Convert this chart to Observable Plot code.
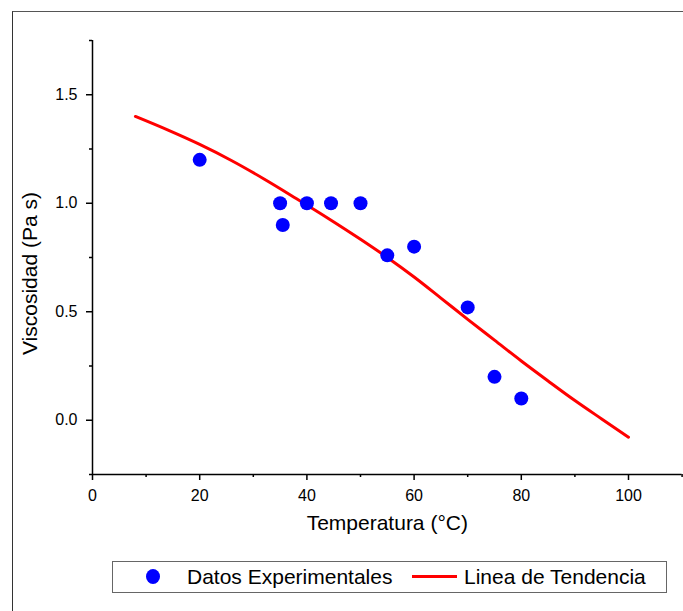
<!DOCTYPE html>
<html>
<head>
<meta charset="utf-8">
<script src="https://cdn.jsdelivr.net/npm/d3@7"></script>
<script src="https://cdn.jsdelivr.net/npm/@observablehq/plot@0.6"></script>
<style>
  html, body { margin: 0; padding: 0; background: #fff; }
  #wrap { position: relative; width: 683px; height: 611px; overflow: hidden; font-family: "Liberation Sans", Arial, sans-serif; }
  #frame { position: absolute; left: 12px; top: 11px; width: 700px; height: 700px; border-left: 1.5px solid #333; border-top: 1.5px solid #555; }
  #chart { position: absolute; left: 0; top: 0; }
  #legend { position: absolute; left: 112px; top: 561px; width: 553px; height: 30px; border: 1px solid #666; background: #fff; }
  .lg { position: absolute; font-size: 21px; line-height: 21px; color: #000; white-space: nowrap; }
</style>
</head>
<body>
<div id="wrap">
  <div id="frame"></div>
  <div id="chart"></div>
  <div id="legend"></div>
</div>
<script>
// Experimental data
const temperature = [20, 35, 35.5, 40, 44.5, 50, 55, 60, 70, 75, 80];
const viscosity   = [1.20, 1.00, 0.90, 1.00, 1.00, 1.00, 0.76, 0.80, 0.52, 0.20, 0.10];

// Trend line
const trendX = [8, 14, 20, 26, 32, 38, 44, 50, 55, 60, 65, 70, 75, 80, 85, 90, 95, 100];
const trendY = [1.400, 1.338, 1.271, 1.196, 1.112, 1.022, 0.930, 0.834, 0.750, 0.660, 0.563, 0.465, 0.369, 0.273, 0.181, 0.091, 0.006, -0.078];

// Ticks
const xMajor = [0, 20, 40, 60, 80, 100];
const xMinor = [10, 30, 50, 70, 90, 110];
const yMajor = [0.0, 0.5, 1.0, 1.5];
const yMinor = [-0.25, 0.25, 0.75, 1.25, 1.75];

const xLabel = "Temperatura (°C)";
const yLabel = "Viscosidad (Pa s)";
const legendLabels = ["Datos Experimentales", "Linea de Tendencia"];

const points = temperature.map((t, i) => ({x: t, y: viscosity[i]}));
const trend = trendX.map((t, i) => ({x: t, y: trendY[i]}));

const chart = Plot.plot({
  width: 683,
  height: 550,
  marginLeft: 92,
  marginTop: 40,
  marginBottom: 76,
  marginRight: 1.4,
  x: {domain: [0, 110]},
  y: {domain: [-0.25, 1.75]},
  style: {fontFamily: "'Liberation Sans', Arial, sans-serif", fontSize: "16px", color: "#000", background: "transparent"},
  marks: [
    Plot.axisX({ticks: xMajor, tickSize: 6, tickPadding: 9, tickFormat: d => String(d), label: null, fontSize: 16, strokeWidth: 1.5}),
    Plot.axisX({ticks: xMinor, tickSize: 3, tickFormat: () => "", label: null, strokeWidth: 1.5}),
    Plot.axisY({ticks: yMajor, tickSize: 6, tickPadding: 9, tickFormat: d3.format(".1f"), label: null, fontSize: 16, strokeWidth: 1.5}),
    Plot.axisY({ticks: yMinor, tickSize: 3, tickFormat: () => "", label: null, strokeWidth: 1.5}),
    Plot.ruleY([-0.25], {stroke: "#000", strokeWidth: 1.5}),
    Plot.ruleX([0], {stroke: "#000", strokeWidth: 1.5}),
    Plot.line(trend, {x: "x", y: "y", stroke: "#ff0000", strokeWidth: 3, curve: "monotone-x"}),
    Plot.dot(points, {x: "x", y: "y", r: 7, fill: "#0000ff", stroke: "none"}),
    Plot.text([xLabel], {frameAnchor: "bottom", dy: 55, fontSize: 21, text: d => d, fill: "#000"}),
    Plot.text([yLabel], {frameAnchor: "left", textAnchor: "middle", dx: -62, dy: 16, rotate: -90, fontSize: 21, text: d => d, fill: "#000"})
  ]
});
document.getElementById("chart").appendChild(chart);

// Legend
const wrap = document.getElementById("wrap");
function add(el) { wrap.appendChild(el); return el; }
const dot = document.createElement("div");
dot.style.cssText = "position:absolute;left:146px;top:569px;width:14px;height:15px;border-radius:50%;background:#0000ff;";
add(dot);
const t1 = document.createElement("div");
t1.className = "lg"; t1.textContent = legendLabels[0];
t1.style.left = "187px"; t1.style.top = "566px";
add(t1);
const ln = document.createElement("div");
ln.style.cssText = "position:absolute;left:412px;top:575px;width:45px;height:3px;background:#ff0000;";
add(ln);
const t2 = document.createElement("div");
t2.className = "lg"; t2.textContent = legendLabels[1];
t2.style.left = "464px"; t2.style.top = "566px";
add(t2);
</script>
</body>
</html>
